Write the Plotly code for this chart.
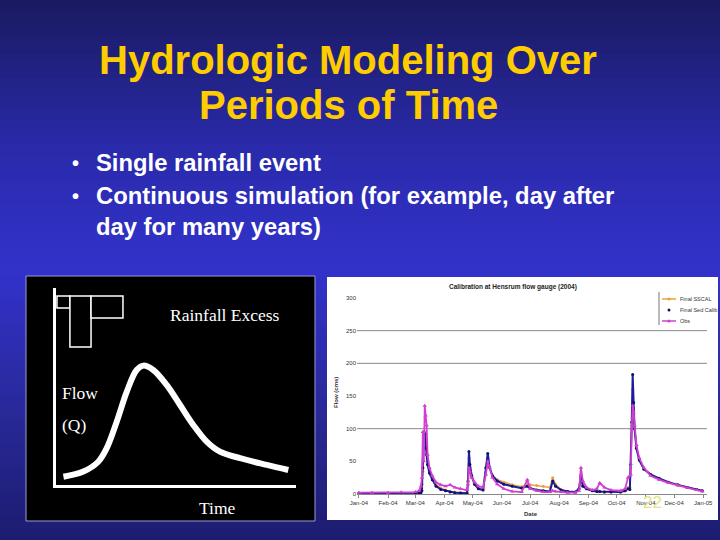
import plotly.graph_objects as go

# ---------------- data ----------------
dates = [
    "2004-01-01", "2004-01-15", "2004-02-01", "2004-02-15", "2004-03-01", "2004-03-05",
    "2004-03-07", "2004-03-08", "2004-03-09", "2004-03-10", "2004-03-11", "2004-03-12",
    "2004-03-13", "2004-03-14", "2004-03-16", "2004-03-19", "2004-03-23", "2004-03-28",
    "2004-04-02", "2004-04-07", "2004-04-12", "2004-04-18", "2004-04-25", "2004-04-26",
    "2004-04-27", "2004-04-28", "2004-04-30", "2004-05-03", "2004-05-07", "2004-05-12",
    "2004-05-15", "2004-05-17", "2004-05-19", "2004-05-22", "2004-05-27", "2004-06-03",
    "2004-06-12", "2004-06-22", "2004-06-28", "2004-07-01", "2004-07-08", "2004-07-15",
    "2004-07-22", "2004-07-25", "2004-07-28", "2004-08-03", "2004-08-10", "2004-08-18",
    "2004-08-22", "2004-08-24", "2004-08-26", "2004-08-30", "2004-09-05", "2004-09-10",
    "2004-09-13", "2004-09-18", "2004-09-25", "2004-10-05", "2004-10-10", "2004-10-13",
    "2004-10-15", "2004-10-16", "2004-10-17", "2004-10-18", "2004-10-19", "2004-10-20",
    "2004-10-22", "2004-10-25", "2004-10-30", "2004-11-06", "2004-11-15", "2004-11-25",
    "2004-12-05", "2004-12-15", "2004-12-25", "2004-12-31",
]
obs = [
    2, 2, 2, 2.5, 3, 5,
    12, 25, 95, 50, 135, 120,
    105, 60, 40, 28, 18, 14,
    12, 14, 10, 8, 6, 15,
    40, 35, 25, 18, 12, 10,
    30, 50, 40, 25, 15, 8,
    4, 3, 22, 8, 5, 3,
    3, 5, 4, 3, 2, 2,
    5, 40, 20, 10, 6, 8,
    17, 10, 6, 5, 8, 25,
    28, 30, 100, 135, 125, 105,
    75, 55, 40, 28, 22, 17,
    13, 9, 6, 4,
]
final_sed_calib = [
    1, 1, 1, 1, 1, 1.5,
    2, 5, 40, 95, 92, 70,
    60, 45, 32, 22, 12, 7,
    5, 3, 2, 1.5, 1, 20,
    65, 45, 28, 15, 8, 6,
    40, 62, 40, 28, 20, 15,
    12, 9, 12, 9, 6, 5,
    4, 20, 12, 6, 4, 3,
    8, 28, 12, 8, 5, 4,
    4, 3, 3, 3, 5, 8,
    7, 45, 110, 183, 140, 100,
    70, 52, 38, 30, 24, 18,
    14, 10, 7, 5,
]
final_sscal = [
    1.5, 1.5, 1.5, 1.5, 2, 2,
    4, 15, 35, 70, 95, 90,
    75, 55, 35, 25, 14, 9,
    6, 4, 3, 2, 1.5, 18,
    55, 40, 25, 15, 9, 7,
    40, 55, 40, 28, 22, 18,
    14, 11, 15, 14, 13, 12,
    10, 25, 15, 6, 4, 3,
    8, 30, 14, 9, 6, 4,
    4, 3, 3, 3, 5, 10,
    10, 40, 105, 160, 110, 100,
    70, 52, 38, 30, 24, 18,
    14, 10, 7, 5,
]
month_ticks = ["2004-01-01", "2004-02-01", "2004-03-01", "2004-04-01", "2004-05-01",
               "2004-06-01", "2004-07-01", "2004-08-01", "2004-09-01", "2004-10-01",
               "2004-11-01", "2004-12-01", "2005-01-01"]
month_labels = ["Jan-04", "Feb-04", "Mar-04", "Apr-04", "May-04", "Jun-04", "Jul-04",
                "Aug-04", "Sep-04", "Oct-04", "Nov-04", "Dec-04", "Jan-05"]
flow_ticks = [0, 50, 100, 150, 200, 250, 300]
grid_values = [100, 200, 250]
series_names = ["Final SSCAL", "Final Sed Calib", "Obs"]
series_colors = ["#E8A040", "#10106e", "#D040D0"]

# conceptual hydrograph (arbitrary units 0-10)
hydro_time = [0.31, 1.14, 1.76, 2.11, 2.53, 2.95, 3.36, 3.64, 4.05, 4.61, 5.17, 5.72,
              6.28, 6.83, 7.67, 8.78, 9.68]
hydro_flow = [0.42, 0.68, 1.18, 1.86, 3.21, 4.74, 5.84, 6.06, 5.84, 5.08, 4.06, 3.05,
              2.20, 1.69, 1.36, 1.02, 0.76]
rain_start = [0.04, 0.58, 1.46]
rain_end = [0.58, 1.46, 2.79]
rain_depth = [0.62, 2.6, 1.12]
rain_top = 9.6

W, H = 720, 540
def px(x):
    return x / W
def py(y):
    return 1 - y / H

fig = go.Figure()

# ---------------- right chart ----------------
fig.add_trace(go.Scatter(x=dates, y=final_sscal, name=series_names[0], mode="lines+markers",
                         line=dict(color=series_colors[0], width=1.5),
                         marker=dict(size=3, color=series_colors[0]),
                         showlegend=False, xaxis="x", yaxis="y"))
fig.add_trace(go.Scatter(x=dates, y=final_sed_calib, name=series_names[1], mode="lines+markers",
                         line=dict(color="#1c1c9c", width=2),
                         marker=dict(size=3, color=series_colors[1]),
                         showlegend=False, xaxis="x", yaxis="y"))
fig.add_trace(go.Scatter(x=dates, y=obs, name=series_names[2], mode="lines+markers",
                         line=dict(color=series_colors[2], width=1.8),
                         marker=dict(size=4, symbol="triangle-up", color=series_colors[2]),
                         showlegend=False, xaxis="x", yaxis="y"))

# ---------------- left conceptual chart ----------------
fig.add_trace(go.Bar(x=[(a + b) / 2 for a, b in zip(rain_start, rain_end)],
                     width=[b - a for a, b in zip(rain_start, rain_end)],
                     y=[-d for d in rain_depth], base=[rain_top] * len(rain_depth),
                     marker=dict(color="black", line=dict(color="white", width=1.5)),
                     showlegend=False, xaxis="x2", yaxis="y2", hoverinfo="skip"))
fig.add_trace(go.Scatter(x=hydro_time, y=hydro_flow, mode="lines",
                         line=dict(color="white", width=6, shape="spline"),
                         showlegend=False, xaxis="x2", yaxis="y2"))

# ---------------- background ----------------
stops = [(0, (26, 26, 96)), (150, (42, 42, 172)), (270, (50, 50, 204)),
         (420, (40, 40, 150)), (540, (28, 28, 112))]
def bg_color(y):
    for (y0, c0), (y1, c1) in zip(stops[:-1], stops[1:]):
        if y0 <= y <= y1:
            t = (y - y0) / (y1 - y0)
            return "rgb(%d,%d,%d)" % tuple(round(a + (b - a) * t) for a, b in zip(c0, c1))
    return "rgb(28,28,112)"

shapes = []
step = 6
for y in range(0, H, step):
    shapes.append(dict(type="rect", xref="paper", yref="paper", x0=0, x1=1,
                       y0=py(y + step), y1=py(y), fillcolor=bg_color(y + step / 2),
                       line=dict(width=0), layer="below"))
# left black panel
shapes.append(dict(type="rect", xref="paper", yref="paper", x0=px(26), x1=px(315),
                   y0=py(521), y1=py(276), fillcolor="black",
                   line=dict(color="#9a9ad8", width=1), layer="below"))
# right white panel
shapes.append(dict(type="rect", xref="paper", yref="paper", x0=px(327), x1=px(718),
                   y0=py(520), y1=py(277), fillcolor="white",
                   line=dict(width=0), layer="below"))
# gridlines
for g in grid_values:
    shapes.append(dict(type="line", xref="x domain", yref="y", x0=0, x1=1, y0=g, y1=g,
                       line=dict(color="#8a8a8a", width=1), layer="below"))
# legend: left rule + swatches
shapes.append(dict(type="line", xref="paper", yref="paper", x0=px(659), x1=px(659),
                   y0=py(325), y1=py(292), line=dict(color="#777", width=1)))
legend_rows = [299, 310, 321]
annotations = []
for i, (name, col, ry) in enumerate(zip(series_names, series_colors, legend_rows)):
    if i != 1:
        shapes.append(dict(type="line", xref="paper", yref="paper", x0=px(662), x1=px(676),
                           y0=py(ry), y1=py(ry), line=dict(color=col, width=1.5)))
    shapes.append(dict(type="circle", xref="paper", yref="paper", x0=px(667.5), x1=px(670.5),
                       y0=py(ry + 1.5), y1=py(ry - 1.5), fillcolor=col, line=dict(width=0)))
    annotations.append(dict(text=name, x=px(678), y=py(ry), xref="paper", yref="paper",
                            showarrow=False, xanchor="left", yanchor="middle",
                            font=dict(family="Liberation Sans", size=5.5, color="#333")))

for text, y in [("<b>Hydrologic Modeling Over</b>", 60), ("<b>Periods of Time</b>", 105)]:
    annotations.append(dict(text=text, x=px(348), y=py(y), xref="paper", yref="paper",
                            showarrow=False, xanchor="center", yanchor="middle",
                            font=dict(family="Liberation Sans", size=40, color="#FFCC00")))

bullets = [("Single rainfall event", 163, True),
           ("Continuous simulation (for example, day after", 196, True),
           ("day for many years)", 226, False)]
for text, y, dot in bullets:
    annotations.append(dict(text="<b>%s</b>" % text, x=px(94), y=py(y), xref="paper", yref="paper",
                            showarrow=False, xanchor="left", yanchor="middle",
                            font=dict(family="Liberation Sans", size=23.8, color="white")))
    if dot:
        annotations.append(dict(text="<b>•</b>", x=px(75), y=py(y), xref="paper", yref="paper",
                                showarrow=False, xanchor="center", yanchor="middle",
                                font=dict(family="Liberation Sans", size=20, color="white")))

serif = dict(family="Liberation Serif", size=17.5, color="white")
small = dict(family="Liberation Sans", size=6, color="#333")
extra = [
    dict(text="Rainfall Excess", x=px(225), y=py(315), xanchor="center", font=serif),
    dict(text="Flow", x=px(60), y=py(393), xanchor="left", font=serif),
    dict(text="(Q)", x=px(60), y=py(425), xanchor="left", font=serif),
    dict(text="Time", x=px(218), y=py(508), xanchor="center", font=serif),
    dict(text="<b>Calibration at Hensrum flow gauge (2004)</b>", x=px(513), y=py(287),
         xanchor="center", font=dict(family="Liberation Sans", size=6.5, color="#222")),
    dict(text="<b>Flow (cms)</b>", x=px(336), y=py(393), xanchor="center", textangle=-90, font=small),
    dict(text="<b>Date</b>", x=px(531), y=py(514), xanchor="center", font=small),
    dict(text="22", x=px(652), y=py(502), xanchor="center",
         font=dict(family="Liberation Sans", size=17, color="#e4e48c")),
]
for a in extra:
    a.update(xref="paper", yref="paper", showarrow=False, yanchor="middle")
annotations += extra

fig.update_layout(
    width=W, height=H, margin=dict(l=0, r=0, t=0, b=0, pad=0, autoexpand=False),
    paper_bgcolor="#22228a", plot_bgcolor="rgba(0,0,0,0)",
    shapes=shapes, annotations=annotations,
    showlegend=False,
    xaxis=dict(domain=[px(357), px(707)], type="date", range=["2003-12-30", "2005-01-05"],
               tickvals=month_ticks, ticktext=month_labels, tickfont=small,
               showgrid=False, showline=True, linecolor="#888", linewidth=1,
               ticks="outside", ticklen=3, tickcolor="#888", zeroline=False, anchor="y",
               automargin=False),
    yaxis=dict(domain=[py(494), py(298)], range=[0, 300], tickvals=flow_ticks, tickfont=small,
               showgrid=False, showline=False, zeroline=False, ticks="", anchor="x",
               automargin=False),
    xaxis2=dict(domain=[px(56), px(296)], range=[0, 10], showline=True, linecolor="white",
                linewidth=3, showticklabels=False, showgrid=False, zeroline=False, ticks="",
                anchor="y2", automargin=False),
    yaxis2=dict(domain=[py(485), py(288)], range=[0, 10], showline=True, linecolor="white",
                linewidth=3, showticklabels=False, showgrid=False, zeroline=False, ticks="",
                anchor="x2", automargin=False),
)

fig.write_html("out.html")
